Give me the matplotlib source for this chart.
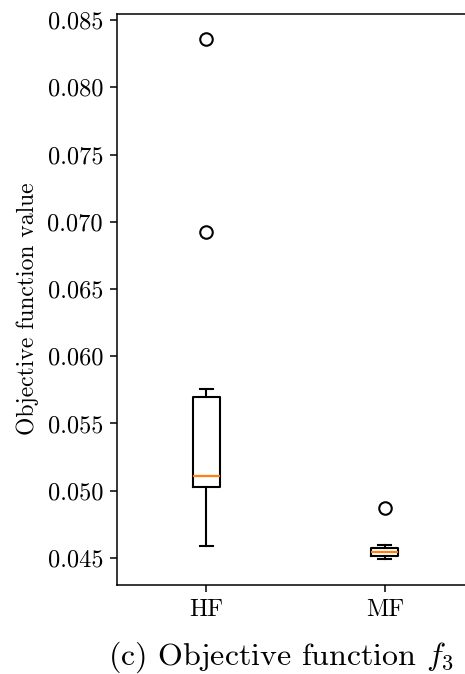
import matplotlib
matplotlib.use("Agg")
import matplotlib.pyplot as plt

plt.rcParams["font.family"] = "cmr10"
plt.rcParams["mathtext.fontset"] = "cm"
plt.rcParams["axes.formatter.use_mathtext"] = True

# box statistics
labels = ["HF", "MF"]
q1 = [0.05028, 0.04513]
med = [0.05110, 0.04542]
q3 = [0.05697, 0.04577]
whislo = [0.04589, 0.04492]
whishi = [0.05757, 0.04597]
fliers = [[0.08359, 0.06924], [0.04872]]

yticks = [0.045, 0.050, 0.055, 0.060, 0.065, 0.070, 0.075, 0.080, 0.085]

stats = []
for i in range(len(labels)):
    stats.append(dict(label=labels[i], q1=q1[i], med=med[i], q3=q3[i],
                      whislo=whislo[i], whishi=whishi[i], fliers=fliers[i]))

W, H = 465, 674
fig = plt.figure(figsize=(W / 100, H / 100), dpi=100)
ax = fig.add_axes([117 / W, 1 - 585 / H, (474 - 117) / W, (585 - 14) / H])

ax.bxp(stats, positions=[1, 2], widths=0.15,
       boxprops=dict(linewidth=1.5, color="black"),
       whiskerprops=dict(linewidth=1.5, color="black"),
       capprops=dict(linewidth=1.5, color="black"),
       medianprops=dict(linewidth=1.6, color="#ff7f0e"),
       flierprops=dict(marker="o", markersize=9, markerfacecolor="none",
                       markeredgecolor="black", markeredgewidth=1.5))

ax.set_xlim(0.5, 2.5)
ax.set_ylim(0.04299, 0.08545)
ax.set_yticks(yticks)
ax.set_yticklabels([f"{t:.3f}" for t in yticks])
ax.tick_params(labelsize=17.5, length=5, width=1.1, pad=5)
for s in ax.spines.values():
    s.set_linewidth(1.1)
ax.set_ylabel("Objective function value", fontsize=17, labelpad=6)
ax.yaxis.label.set_y(0.484)

fig.text(108 / W, 1 - 665 / H, r"(c) Objective function $f_3$",
         fontsize=23, ha="left", va="baseline")

fig.savefig("out.png", dpi=100)
